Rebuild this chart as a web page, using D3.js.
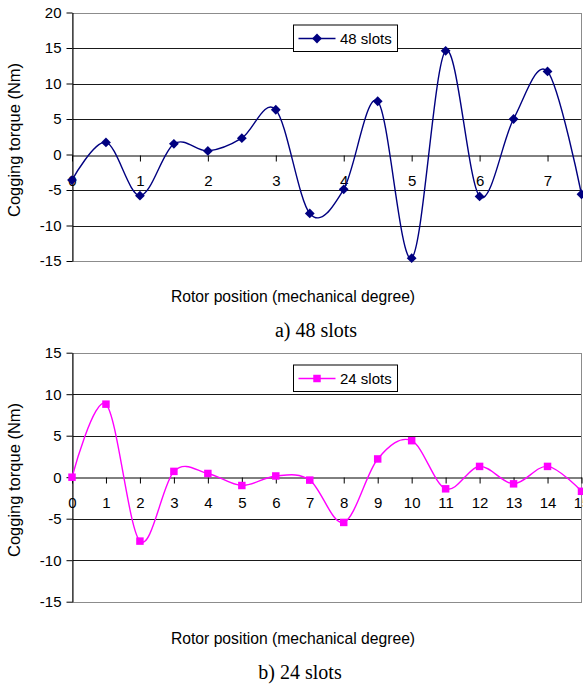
<!DOCTYPE html>
<html>
<head>
<meta charset="UTF-8">
<script src="https://d3js.org/d3.v7.min.js"></script>
<style>
  body { margin: 0; background: #fff; }
  svg { display: block; }
  text { font-family: "Liberation Sans", Arial, sans-serif; }
  .caption { font-family: "Liberation Serif", "Times New Roman", serif; }
</style>
</head>
<body>
<div id="chart"></div>
<script>
// 48 slot machine, markers every 0.5 degree
var pos48 = [0, 0.5, 1, 1.5, 2, 2.5, 3, 3.5, 4, 4.5, 5, 5.5, 6, 6.5, 7, 7.5];
var torque48 = [-3.6, 1.7, -5.8, 1.5, 0.5, 2.3, 6.3, -8.3, -4.9, 7.5, -14.6, 14.6, -5.9, 5.0, 11.7, -5.6];
var xTicks48 = [0, 1, 2, 3, 4, 5, 6, 7];
var yTicks48 = [20, 15, 10, 5, 0, -5, -10, -15];

// 24 slot machine, markers every 1 degree
var pos24 = [0, 1, 2, 3, 4, 5, 6, 7, 8, 9, 10, 11, 12, 13, 14, 15];
var torque24 = [0, 8.8, -7.7, 0.7, 0.45, -1.0, 0.15, -0.35, -5.45, 2.2, 4.4, -1.4, 1.3, -0.8, 1.3, -1.7];
var xTicks24 = [0, 1, 2, 3, 4, 5, 6, 7, 8, 9, 10, 11, 12, 13, 14, 15];
var yTicks24 = [15, 10, 5, 0, -5, -10, -15];

var width = 583, height = 689;

var svg = d3.select("#chart").append("svg")
    .attr("width", width)
    .attr("height", height);

function drawPanel(opt) {
    var x = d3.scaleLinear().domain(opt.xDomain).range([72, 581.5]);
    var y = d3.scaleLinear().domain(opt.yDomain).range([opt.bottom, opt.top]);
    var g = svg.append("g");

    // gridlines
    g.selectAll(".grid")
        .data(opt.yTicks.filter(function(d) { return d !== 0 && d !== opt.yDomain[0] && d !== opt.yDomain[1]; }))
        .enter().append("line")
        .attr("x1", x.range()[0]).attr("x2", x.range()[1])
        .attr("y1", function(d) { return Math.round(y(d)) + 0.5; })
        .attr("y2", function(d) { return Math.round(y(d)) + 0.5; })
        .attr("stroke", "#1a1a1a").attr("stroke-width", 1);

    // plot border (gray)
    g.append("rect")
        .attr("x", 72.5).attr("y", Math.round(opt.top) + 0.5)
        .attr("width", 581.5 - 72.5).attr("height", Math.round(opt.bottom) - Math.round(opt.top))
        .attr("fill", "none").attr("stroke", "#8c8c8c").attr("stroke-width", 1);

    var fmt = function(d) { return String(d); };

    // y axis
    var yAxis = d3.axisLeft(y).tickValues(opt.yTicks).tickFormat(fmt).tickSize(6).tickPadding(5).tickSizeOuter(0);
    var ya = g.append("g").attr("transform", "translate(72.5,0)").call(yAxis);
    ya.select(".domain").attr("stroke", "#000");
    ya.selectAll("text").attr("font-size", 15).attr("fill", "#000")
        .attr("font-family", "'Liberation Sans', Arial, sans-serif");

    // x axis on zero line
    var y0 = Math.round(y(0)) + 0.5;
    var xAxis = d3.axisBottom(x).tickValues(opt.xTicks).tickFormat(fmt).tickSize(6).tickPadding(14).tickSizeOuter(0);
    var xa = g.append("g").attr("transform", "translate(0," + y0 + ")").call(xAxis);
    xa.select(".domain").attr("stroke", "#000");
    xa.selectAll("text").attr("font-size", 15).attr("fill", "#000")
        .attr("font-family", "'Liberation Sans', Arial, sans-serif");

    // series
    var pts = opt.xs.map(function(d, i) { return [d, opt.ys[i]]; });
    var line = d3.line()
        .x(function(d) { return x(d[0]); })
        .y(function(d) { return y(d[1]); })
        .curve(d3.curveCardinal.tension(0));
    g.append("path").datum(pts)
        .attr("d", line)
        .attr("fill", "none")
        .attr("stroke", opt.color)
        .attr("stroke-width", 1.4);

    var sym = d3.symbol().type(opt.symbol).size(opt.symSize);
    g.selectAll(".pt").data(pts).enter().append("path")
        .attr("d", sym)
        .attr("transform", function(d) { return "translate(" + x(d[0]) + "," + y(d[1]) + ")" + opt.rot; })
        .attr("fill", opt.color);

    // legend
    var lg = g.append("g").attr("transform", "translate(293.5," + opt.legendY + ")");
    lg.append("rect").attr("width", 104).attr("height", 26.5)
        .attr("fill", "#fff").attr("stroke", "#000").attr("stroke-width", 1);
    lg.append("line").attr("x1", 5).attr("x2", 42).attr("y1", 13.5).attr("y2", 13.5)
        .attr("stroke", opt.color).attr("stroke-width", 1.4);
    lg.append("path").attr("d", sym)
        .attr("transform", "translate(23.5,13.5)" + opt.rot)
        .attr("fill", opt.color);
    lg.append("text").attr("x", 46.5).attr("y", 18.5)
        .attr("font-size", 15).text(opt.label);

    // axis titles
    g.append("text")
        .attr("x", 293).attr("y", opt.xTitleY)
        .attr("text-anchor", "middle").attr("font-size", 15.7)
        .text("Rotor position (mechanical degree)");
    g.append("text")
        .attr("transform", "translate(20," + opt.yTitleC + ") rotate(-90)")
        .attr("text-anchor", "middle").attr("font-size", 16.5)
        .text("Cogging torque (Nm)");
}

drawPanel({
    xDomain: [0, 7.5], yDomain: [-15, 20], top: 12.5, bottom: 261,
    xTicks: xTicks48, yTicks: yTicks48, xs: pos48, ys: torque48,
    color: "#000080", symbol: d3.symbolSquare, symSize: 48, rot: " rotate(45)",
    label: "48 slots", legendY: 25, xTitleY: 302, yTitleC: 140
});

drawPanel({
    xDomain: [0, 15], yDomain: [-15, 15], top: 352.7, bottom: 601.7,
    xTicks: xTicks24, yTicks: yTicks24, xs: pos24, ys: torque24,
    color: "#ff00ff", symbol: d3.symbolSquare, symSize: 56, rot: "",
    label: "24 slots", legendY: 365, xTitleY: 644, yTitleC: 480
});

// captions
svg.append("text").attr("class", "caption")
    .attr("x", 316).attr("y", 337).attr("text-anchor", "middle")
    .attr("font-size", 20).text("a) 48 slots");
svg.append("text").attr("class", "caption")
    .attr("x", 300).attr("y", 679).attr("text-anchor", "middle")
    .attr("font-size", 20).text("b) 24 slots");
svg.append("text").attr("class", "caption")
    .attr("x", 290).attr("y", 704).attr("text-anchor", "middle")
    .attr("font-size", 20).text("Fig. 3 Cogging torque waveforms");
</script>
</body>
</html>
